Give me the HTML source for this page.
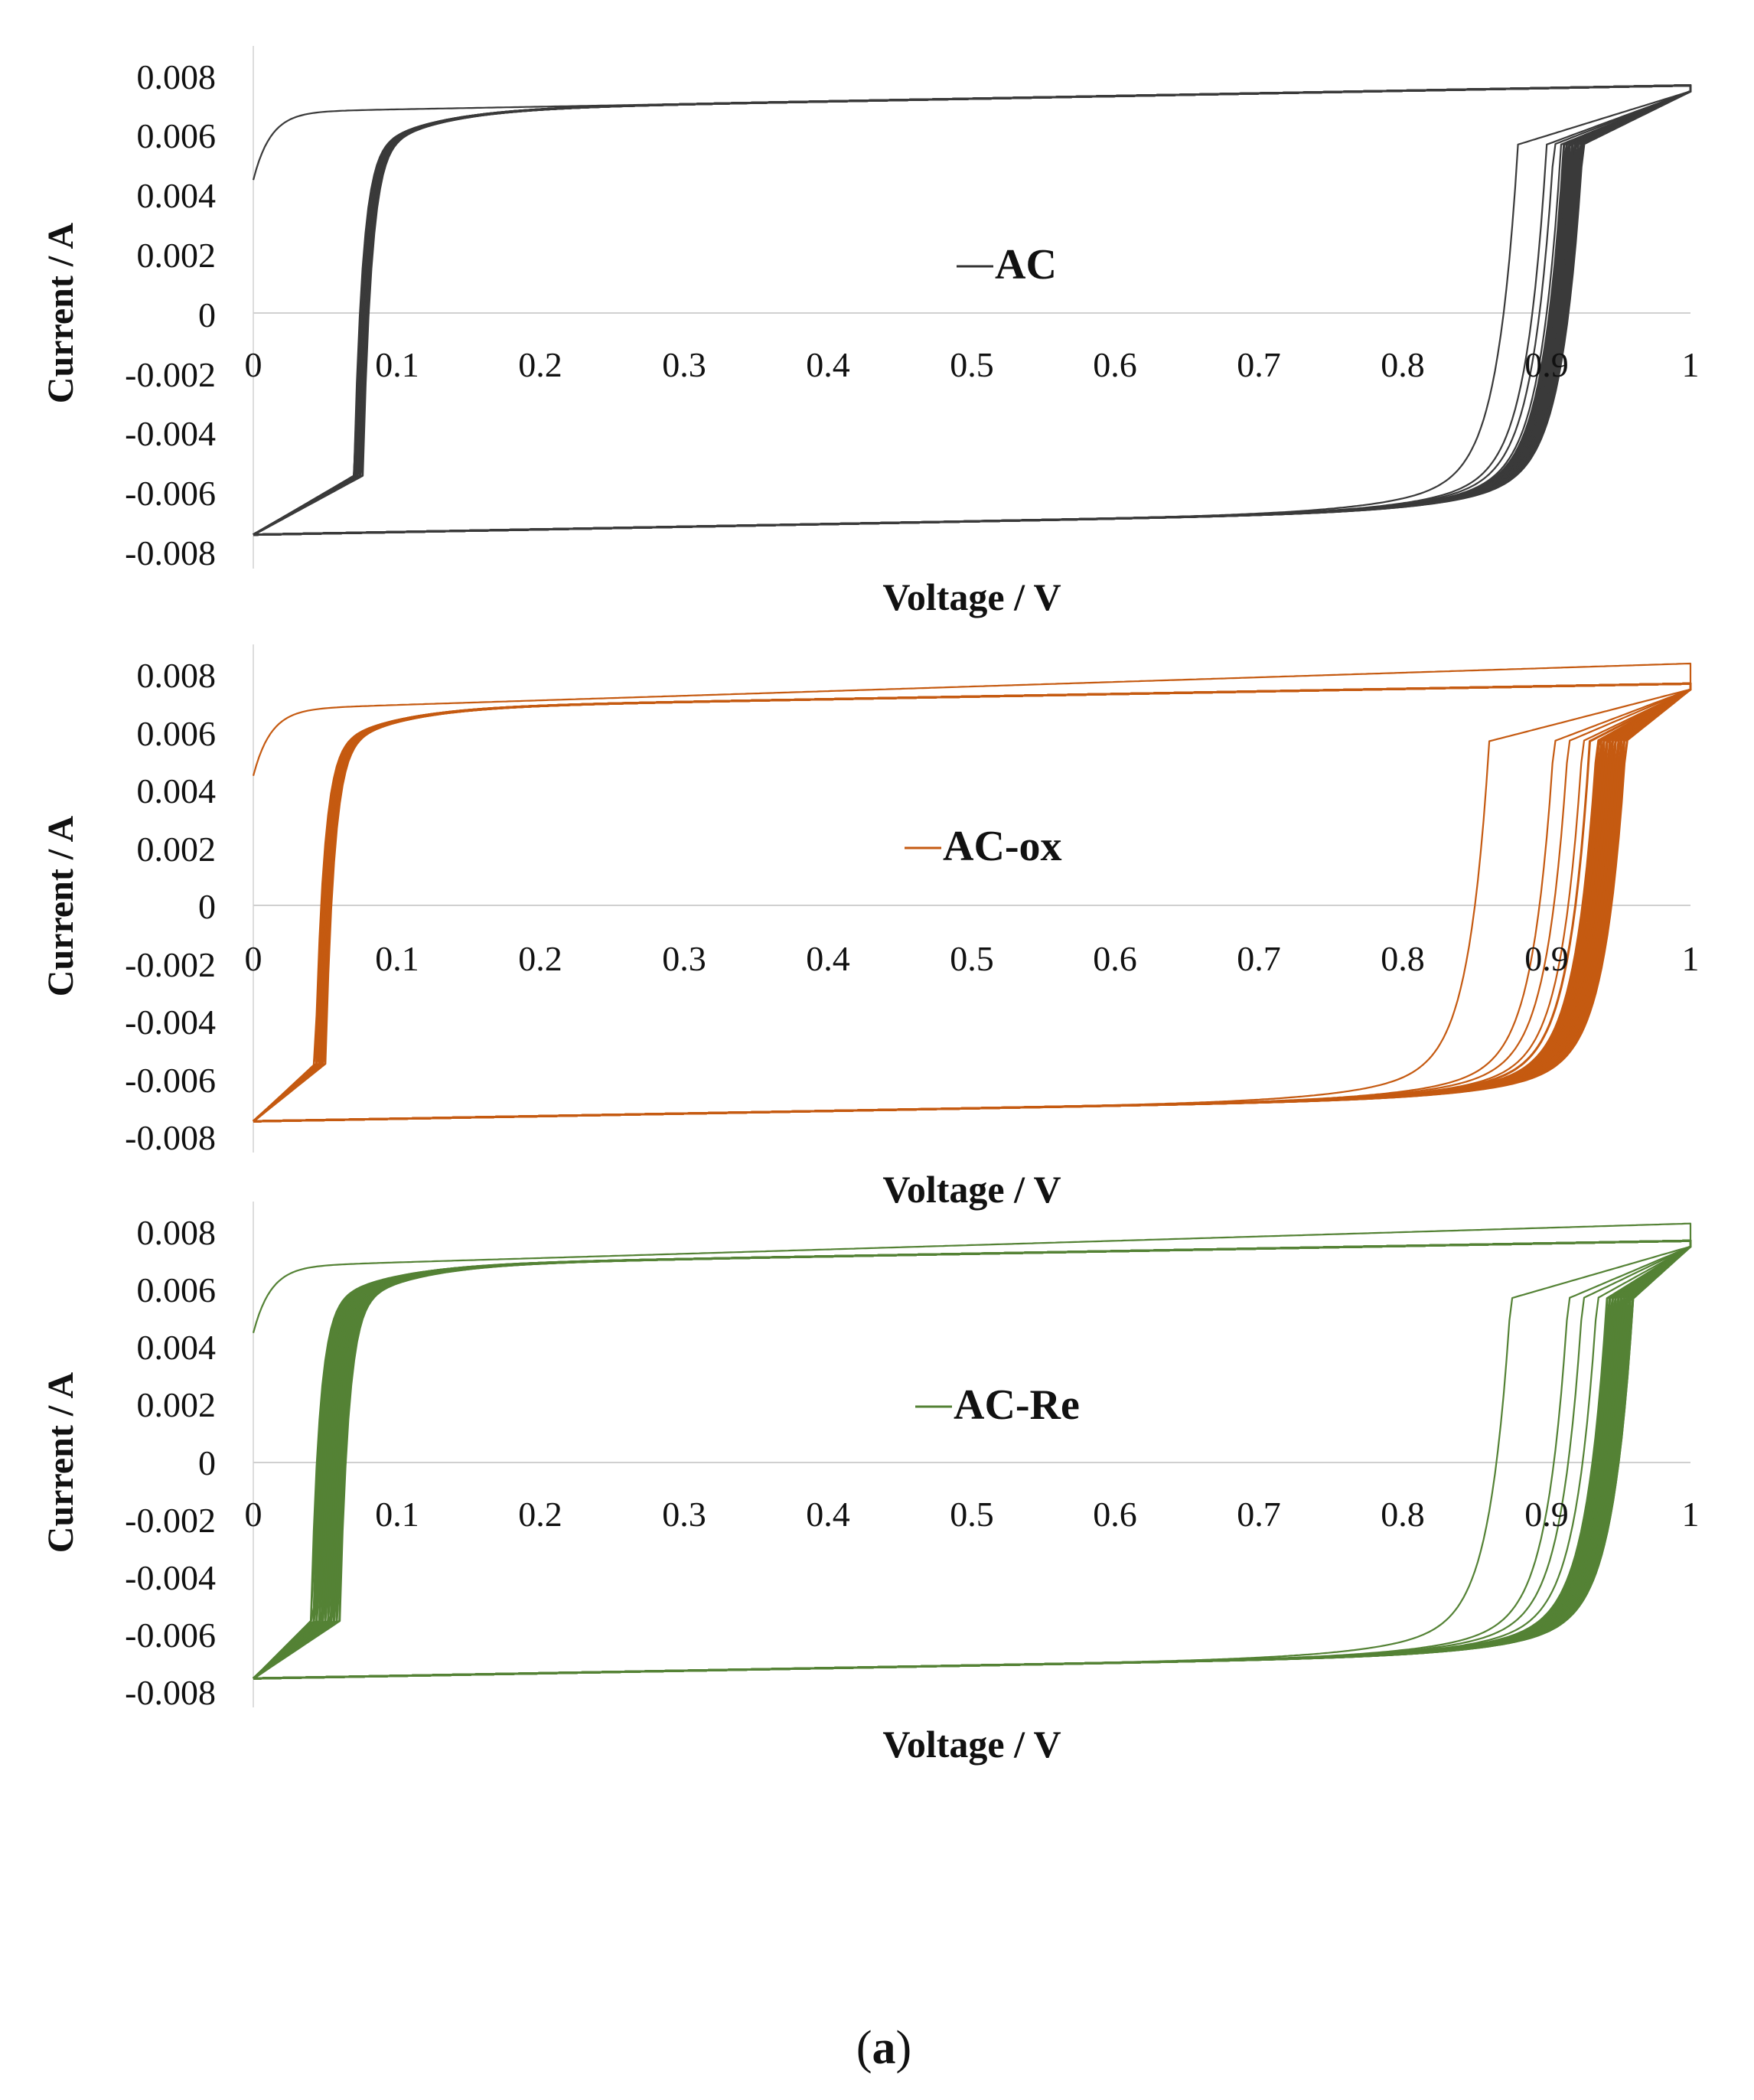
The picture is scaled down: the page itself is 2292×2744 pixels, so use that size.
<!DOCTYPE html>
<html><head><meta charset="utf-8">
<style>
html,body{margin:0;padding:0;background:#fff;}
svg{display:block;}
text{font-family:"Liberation Serif",serif;}
</style></head>
<body>
<svg id="s" width="2292" height="2744" viewBox="0 0 2292 2744" xmlns="http://www.w3.org/2000/svg">
<g id="g"></g>
<!-- Panel 1 labels -->
<g font-size="46" fill="#111" text-anchor="end">
<text x="282" y="116">0.008</text><text x="282" y="193">0.006</text><text x="282" y="271">0.004</text><text x="282" y="349">0.002</text><text x="282" y="427">0</text><text x="282" y="505">-0.002</text><text x="282" y="582">-0.004</text><text x="282" y="660">-0.006</text><text x="282" y="738">-0.008</text>
</g>
<g font-size="46" fill="#111" text-anchor="middle">
<text x="331" y="492">0</text><text x="519" y="492">0.1</text><text x="706" y="492">0.2</text><text x="894" y="492">0.3</text><text x="1082" y="492">0.4</text><text x="1270" y="492">0.5</text><text x="1457" y="492">0.6</text><text x="1645" y="492">0.7</text><text x="1833" y="492">0.8</text><text x="2021" y="492">0.9</text><text x="2209" y="492">1</text>
</g>
<text x="1270" y="797" font-size="50" font-weight="bold" text-anchor="middle" fill="#111">Voltage / V</text>
<text transform="translate(95,409) rotate(-90)" font-size="48" font-weight="bold" text-anchor="middle" fill="#111">Current / A</text>
<line x1="1250" y1="348" x2="1298" y2="348" stroke="#333" stroke-width="3"/>
<text x="1300" y="364" font-size="56" font-weight="bold" fill="#111">AC</text>

<!-- Panel 2 labels -->
<g font-size="46" fill="#111" text-anchor="end">
<text x="282" y="898">0.008</text><text x="282" y="974">0.006</text><text x="282" y="1049">0.004</text><text x="282" y="1125">0.002</text><text x="282" y="1200">0</text><text x="282" y="1276">-0.002</text><text x="282" y="1351">-0.004</text><text x="282" y="1427">-0.006</text><text x="282" y="1502">-0.008</text>
</g>
<g font-size="46" fill="#111" text-anchor="middle">
<text x="331" y="1268">0</text><text x="519" y="1268">0.1</text><text x="706" y="1268">0.2</text><text x="894" y="1268">0.3</text><text x="1082" y="1268">0.4</text><text x="1270" y="1268">0.5</text><text x="1457" y="1268">0.6</text><text x="1645" y="1268">0.7</text><text x="1833" y="1268">0.8</text><text x="2021" y="1268">0.9</text><text x="2209" y="1268">1</text>
</g>
<text x="1270" y="1571" font-size="50" font-weight="bold" text-anchor="middle" fill="#111">Voltage / V</text>
<text transform="translate(95,1184) rotate(-90)" font-size="48" font-weight="bold" text-anchor="middle" fill="#111">Current / A</text>
<line x1="1182" y1="1108" x2="1230" y2="1108" stroke="#c55a11" stroke-width="3"/>
<text x="1232" y="1124" font-size="56" font-weight="bold" fill="#111">AC-ox</text>

<!-- Panel 3 labels -->
<g font-size="46" fill="#111" text-anchor="end">
<text x="282" y="1626">0.008</text><text x="282" y="1701">0.006</text><text x="282" y="1776">0.004</text><text x="282" y="1851">0.002</text><text x="282" y="1927">0</text><text x="282" y="2002">-0.002</text><text x="282" y="2077">-0.004</text><text x="282" y="2152">-0.006</text><text x="282" y="2227">-0.008</text>
</g>
<g font-size="46" fill="#111" text-anchor="middle">
<text x="331" y="1994">0</text><text x="519" y="1994">0.1</text><text x="706" y="1994">0.2</text><text x="894" y="1994">0.3</text><text x="1082" y="1994">0.4</text><text x="1270" y="1994">0.5</text><text x="1457" y="1994">0.6</text><text x="1645" y="1994">0.7</text><text x="1833" y="1994">0.8</text><text x="2021" y="1994">0.9</text><text x="2209" y="1994">1</text>
</g>
<text x="1270" y="2296" font-size="50" font-weight="bold" text-anchor="middle" fill="#111">Voltage / V</text>
<text transform="translate(95,1911) rotate(-90)" font-size="48" font-weight="bold" text-anchor="middle" fill="#111">Current / A</text>
<line x1="1196" y1="1838" x2="1244" y2="1838" stroke="#548235" stroke-width="3"/>
<text x="1246" y="1854" font-size="56" font-weight="bold" fill="#111">AC-Re</text>

<text x="1155" y="2696" font-size="62" text-anchor="middle" fill="#111">(<tspan font-weight="bold">a</tspan>)</text>
</svg>
<script>
(function(){
var g=document.getElementById('g');var NS='http://www.w3.org/2000/svg';
function el(n,a){var e=document.createElementNS(NS,n);for(var k in a)e.setAttribute(k,a[k]);g.appendChild(e);return e;}
function panel(top,ybot,zeroY,color,v0s,v1s,topExtra){
  var X=function(v){return 331+v*1878;};
  var Y=function(i){return zeroY-(i/0.008)*(zeroY-top);};
  el('line',{x1:331,y1:top-40,x2:331,y2:ybot+20,stroke:'#ddd','stroke-width':2});
  el('line',{x1:331,y1:zeroY,x2:2209,y2:zeroY,stroke:'#d0d0d0','stroke-width':2});
  function P(v){return 0.0068+0.0009*v;}
  function N(v){return -0.0075+0.0009*v;}
  var n=Math.max(v0s.length,v1s.length);
  for(var c=0;c<n;c++){
    var v0=v0s[Math.min(c,v0s.length-1)],v1=v1s[Math.min(c,v1s.length-1)];
    var d='',pts=[];
    var ext=(c==0&&topExtra)?topExtra:0;
    for(var v=0;v<=1.0001;v+=0.002){
      var i;
      if(c==0){var p=P(v)+ext*v;i=p-(p-0.0045)*Math.exp(-v/0.012);}
      else if(v<v0){i=-0.0075+0.002*v/v0;}
      else{var p=P(v),D=p+0.0055,D2=0.0016;i=p-(D-D2)*Math.exp(-(v-v0)/0.006)-D2*Math.exp(-(v-v0)/0.045);}
      pts.push([X(v),Y(i)]);
    }
    var iend=0.0075;
    for(var v=1;v>=-0.0001;v-=0.002){
      var i;
      if(v>v1){i=iend-(iend-0.0057)*(1-v)/(1-v1);}
      else{var q=N(v),D=0.0057-q,D2=0.0018;i=q+(D-D2)*Math.exp(-(v1-v)/0.014)+D2*Math.exp(-(v1-v)/0.06);}
      pts.push([X(v),Y(i)]);
    }
    for(var k=0;k<pts.length;k++)d+=(k?'L':'M')+pts[k][0].toFixed(1)+' '+pts[k][1].toFixed(1);
    el('path',{d:d,fill:'none',stroke:color,'stroke-width':c<4?2.2:3,'stroke-linejoin':'round'});
  }
}
function range(a,b,n){var r=[];for(var k=0;k<n;k++)r.push(a+(b-a)*k/(n-1));return r;}
panel(100,723,409,'#3a3a3a',[0.07].concat(range(0.07,0.076,20)),[0.88,0.9,0.905,0.91].concat(range(0.912,0.925,17)),0);
panel(882,1486,1183,'#c55a11',[0.045].concat(range(0.043,0.05,22)),[0.86,0.905,0.915,0.925,0.93].concat(range(0.935,0.955,18)),0.0007);
panel(1610,2211,1911,'#548235',[0.045].concat(range(0.04,0.06,24)),[0.875,0.915,0.925,0.935].concat(range(0.942,0.96,20)),0.0006);
})();
</script>
</body></html>
